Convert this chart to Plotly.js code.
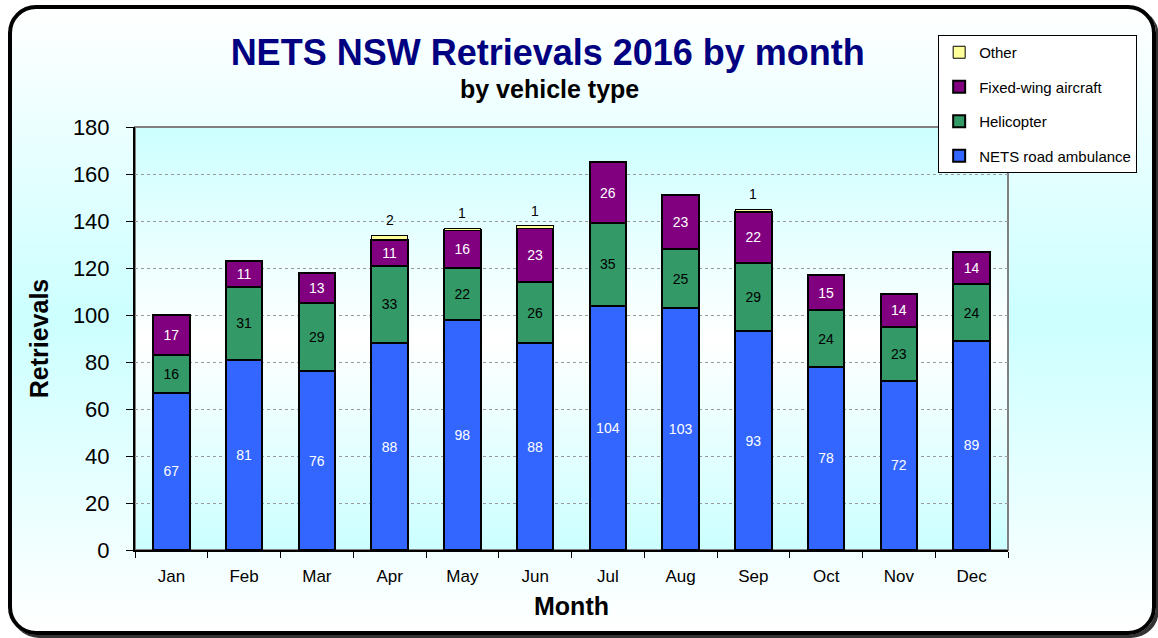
<!DOCTYPE html>
<html>
<head>
<meta charset="utf-8">
<script src="https://cdn.plot.ly/plotly-3.0.1.min.js"></script>
<style>
    body { margin: 0; background: #ffffff; }
    #frame {
        position: absolute; left: 8px; top: 5px; width: 1140px; height: 622px;
        border: 4px solid #000; border-radius: 28px;
        box-shadow: 3px 3px 0 #333;
        background: linear-gradient(to bottom, #ffffff 0%, #ccffff 50%, #ffffff 100%);
    }
    #chart { position: absolute; left: 0; top: 0; width: 1158px; height: 638px; }
</style>
</head>
<body>
<div id="frame"></div>
<div id="chart"></div>
<script>
// Monthly retrievals by vehicle type
const months = ['Jan', 'Feb', 'Mar', 'Apr', 'May', 'Jun', 'Jul', 'Aug', 'Sep', 'Oct', 'Nov', 'Dec'];
const roadAmbulance = [67, 81, 76, 88, 98, 88, 104, 103, 93, 78, 72, 89];
const helicopter = [16, 31, 29, 33, 22, 26, 35, 25, 29, 24, 23, 24];
const fixedWing = [17, 11, 13, 11, 16, 23, 26, 23, 22, 15, 14, 14];
const other = [0, 0, 0, 2, 1, 1, 0, 0, 1, 0, 0, 0];

const font = 'Liberation Sans, Arial, sans-serif';

function barTrace(name, values, color, textColor, rank) {
    return {
        x: months,
        y: values,
        type: 'bar',
        name: name,
        legendgroup: name,
        legendrank: rank,
        marker: { color: color, line: { color: '#000', width: 2 } },
        text: values.map(v => v > 0 ? String(v) : ''),
        textposition: 'inside',
        insidetextanchor: 'middle',
        textfont: { family: font, size: 14, color: textColor },
        hoverinfo: 'x+y+name'
    };
}

let data = [
    barTrace('NETS road ambulance', roadAmbulance, '#3366ff', '#ffffff', 4),
    barTrace('Helicopter', helicopter, '#339966', '#000000', 3),
    barTrace('Fixed-wing aircraft', fixedWing, '#800080', '#ffffff', 2),
    barTrace('Other', other, '#ffff99', '#000000', 1)
];
data[3].textposition = 'none';
data[3].marker.line.width = 1;

// "Other" labels above the stack
let otherLabels = [];
months.forEach((m, i) => {
    if (other[i] > 0) {
        let total = roadAmbulance[i] + helicopter[i] + fixedWing[i] + other[i];
        otherLabels.push({
            x: m, y: total, xref: 'x', yref: 'y',
            text: String(other[i]), showarrow: false,
            yanchor: 'middle', yshift: 15,
            font: { family: font, size: 14, color: '#000' }
        });
    }
});

// plot-area gradient (cyan -> white -> cyan)
const bgSvg = '<svg xmlns="http://www.w3.org/2000/svg" width="10" height="100" preserveAspectRatio="none">' +
    '<defs><linearGradient id="g" x1="0" y1="0" x2="0" y2="1">' +
    '<stop offset="0" stop-color="#ccffff"/><stop offset="0.5" stop-color="#ffffff"/><stop offset="1" stop-color="#ccffff"/>' +
    '</linearGradient></defs><rect width="10" height="100" fill="url(#g)"/></svg>';

let layout = {
    width: 1158,
    height: 638,
    margin: { l: 135, r: 150, t: 127, b: 88 },
    paper_bgcolor: 'rgba(0,0,0,0)',
    plot_bgcolor: 'rgba(0,0,0,0)',
    font: { family: font, color: '#000' },
    barmode: 'stack',
    bargap: 0.5,
    title: {
        text: '<b>NETS NSW Retrievals 2016 by month</b>',
        font: { family: font, size: 36, color: '#000080' },
        x: 0.473, xanchor: 'center',
        yref: 'container', y: 0.918, yanchor: 'middle'
    },
    annotations: [{
        text: '<b>by vehicle type</b>',
        xref: 'paper', yref: 'paper',
        x: 0.475, y: 1.09, xanchor: 'center', yanchor: 'middle',
        showarrow: false,
        font: { family: font, size: 25, color: '#000' }
    }].concat(otherLabels),
    xaxis: {
        type: 'category',
        tickson: 'boundaries',
        ticks: 'outside', ticklen: 6, tickcolor: '#000',
        showline: true, linecolor: '#000', linewidth: 2,
        showgrid: false,
        tickfont: { family: font, size: 17 },
        ticklabelstandoff: 10,
        title: { text: '<b>Month</b>', font: { family: font, size: 25 }, standoff: 12 }
    },
    yaxis: {
        range: [0, 180],
        dtick: 20,
        ticks: 'outside', ticklen: 7, tickcolor: '#000',
        showline: true, linecolor: '#000', linewidth: 2,
        showgrid: true, gridcolor: '#999', griddash: 'dot', gridwidth: 1,
        zeroline: false,
        tickfont: { family: font, size: 22 },
        ticklabelstandoff: 12,
        title: { text: '<b>Retrievals</b>', font: { family: font, size: 25 }, standoff: 17 }
    },
    legend: {
        x: 0.92, xanchor: 'left',
        y: 1.2175, yanchor: 'top',
        bgcolor: '#ffffff', bordercolor: '#000', borderwidth: 1,
        font: { family: font, size: 15 },
        traceorder: 'grouped',
        tracegroupgap: 12
    },
    images: [{
        source: 'data:image/svg+xml;charset=utf-8,' + encodeURIComponent(bgSvg),
        xref: 'paper', yref: 'paper',
        x: 0, y: 1, sizex: 1, sizey: 1,
        sizing: 'stretch', layer: 'below'
    }],
    shapes: [{
        type: 'rect', xref: 'paper', yref: 'paper',
        x0: 0, x1: 1, y0: 0, y1: 1,
        line: { color: '#808080', width: 2 },
        layer: 'below'
    }],
    showlegend: true
};

Plotly.newPlot('chart', data, layout, { displayModeBar: false, responsive: false });
</script>
</body>
</html>
